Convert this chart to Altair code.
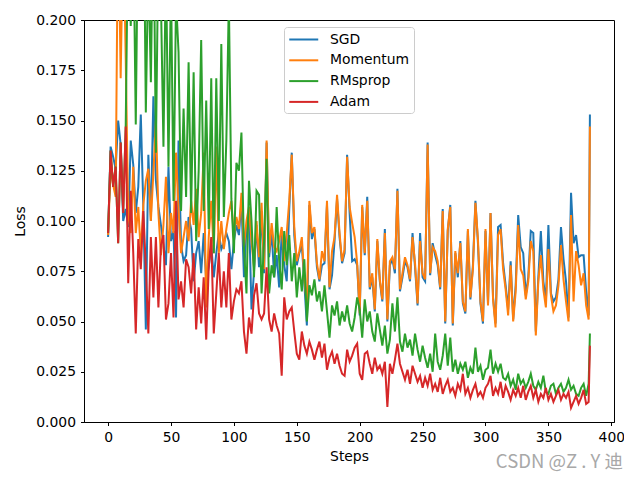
import altair as alt
import pandas as pd

# x positions (every 2nd step, plus the last step)
steps = list(range(0, 383, 2)) + [383]

sgd = [
    0.092, 0.137, 0.132, 0.126, 0.150, 0.138, 0.100, 0.106, 0.097, 0.140,
    0.128, 0.104, 0.117, 0.153, 0.107, 0.046, 0.133, 0.100, 0.162, 0.120,
    0.107, 0.098, 0.088, 0.078, 0.127, 0.090, 0.095, 0.052, 0.140, 0.088,
    0.080, 0.083, 0.102, 0.096, 0.070, 0.084, 0.090, 0.074, 0.094, 0.070,
    0.077, 0.088, 0.072, 0.084, 0.094, 0.086, 0.089, 0.094, 0.090, 0.076,
    0.090, 0.098, 0.093, 0.110, 0.072, 0.097, 0.104, 0.056, 0.075, 0.098,
    0.077, 0.105, 0.074, 0.139, 0.082, 0.095, 0.072, 0.083, 0.067, 0.094,
    0.078, 0.070, 0.106, 0.134, 0.093, 0.078, 0.084, 0.088, 0.069, 0.048,
    0.108, 0.091, 0.096, 0.077, 0.070, 0.078, 0.079, 0.108, 0.066, 0.073,
    0.090, 0.111, 0.092, 0.079, 0.084, 0.133, 0.104, 0.080, 0.081, 0.078,
    0.053, 0.107, 0.083, 0.112, 0.066, 0.072, 0.055, 0.090, 0.070, 0.060,
    0.096, 0.050, 0.078, 0.081, 0.074, 0.116, 0.065, 0.072, 0.080, 0.077,
    0.070, 0.094, 0.077, 0.058, 0.094, 0.072, 0.070, 0.139, 0.073, 0.089,
    0.083, 0.078, 0.066, 0.106, 0.049, 0.095, 0.108, 0.048, 0.084, 0.072,
    0.090, 0.059, 0.054, 0.095, 0.061, 0.078, 0.110, 0.089, 0.059, 0.049,
    0.095, 0.059, 0.104, 0.062, 0.049, 0.097, 0.098, 0.079, 0.068, 0.056,
    0.080, 0.051, 0.068, 0.103, 0.087, 0.084, 0.063, 0.072, 0.095, 0.094,
    0.045, 0.072, 0.095, 0.070, 0.060, 0.098, 0.064, 0.060, 0.062, 0.071,
    0.097, 0.081, 0.070, 0.052, 0.114, 0.089, 0.093, 0.082, 0.083, 0.083,
    0.065, 0.053, 0.153,
]

momentum = [
    0.093, 0.127, 0.118, 0.112, 0.260, 0.171, 0.250, 0.181, 0.103, 0.094,
    0.127, 0.094, 0.107, 0.084, 0.108, 0.120, 0.126, 0.100, 0.124, 0.150,
    0.104, 0.083, 0.098, 0.122, 0.084, 0.104, 0.094, 0.134, 0.106, 0.084,
    0.092, 0.100, 0.090, 0.110, 0.098, 0.116, 0.092, 0.104, 0.134, 0.057,
    0.092, 0.110, 0.084, 0.137, 0.084, 0.100, 0.086, 0.096, 0.104, 0.110,
    0.092, 0.102, 0.096, 0.114, 0.087, 0.100, 0.107, 0.090, 0.077, 0.100,
    0.082, 0.109, 0.076, 0.140, 0.084, 0.099, 0.087, 0.085, 0.090, 0.097,
    0.080, 0.094, 0.110, 0.133, 0.097, 0.080, 0.085, 0.092, 0.071, 0.059,
    0.110, 0.094, 0.097, 0.079, 0.071, 0.085, 0.080, 0.110, 0.067, 0.085,
    0.092, 0.113, 0.094, 0.080, 0.086, 0.132, 0.107, 0.099, 0.092, 0.079,
    0.054, 0.108, 0.084, 0.110, 0.067, 0.074, 0.056, 0.091, 0.071, 0.061,
    0.094, 0.051, 0.080, 0.082, 0.076, 0.115, 0.066, 0.074, 0.082, 0.078,
    0.071, 0.092, 0.079, 0.059, 0.090, 0.074, 0.071, 0.138, 0.074, 0.087,
    0.085, 0.080, 0.067, 0.105, 0.050, 0.096, 0.107, 0.049, 0.085, 0.074,
    0.089, 0.060, 0.055, 0.096, 0.062, 0.076, 0.109, 0.091, 0.060, 0.050,
    0.096, 0.058, 0.104, 0.061, 0.047, 0.093, 0.096, 0.076, 0.066, 0.053,
    0.078, 0.050, 0.065, 0.098, 0.076, 0.073, 0.061, 0.070, 0.090, 0.085,
    0.043, 0.070, 0.083, 0.066, 0.057, 0.086, 0.063, 0.055, 0.058, 0.068,
    0.088, 0.071, 0.060, 0.050, 0.103, 0.060, 0.085, 0.078, 0.068, 0.074,
    0.058, 0.051, 0.147,
]

rmsprop = [
    0.094, 0.135, 0.117, 0.127, 0.089, 0.139, 0.104, 0.147, 0.250, 0.197,
    0.250, 0.148, 0.260, 0.220, 0.280, 0.154, 0.230, 0.169, 0.260, 0.134,
    0.240, 0.210, 0.137, 0.230, 0.127, 0.220, 0.110, 0.210, 0.184, 0.105,
    0.156, 0.112, 0.179, 0.104, 0.174, 0.090, 0.125, 0.190, 0.105, 0.160,
    0.096, 0.171, 0.084, 0.171, 0.100, 0.188, 0.102, 0.140, 0.210, 0.111,
    0.084, 0.129, 0.125, 0.144, 0.087, 0.064, 0.120, 0.100, 0.072, 0.115,
    0.113, 0.064, 0.090, 0.131, 0.064, 0.078, 0.072, 0.107, 0.080, 0.066,
    0.095, 0.078, 0.093, 0.070, 0.084, 0.062, 0.077, 0.065, 0.081, 0.050,
    0.068, 0.063, 0.071, 0.060, 0.065, 0.055, 0.068, 0.055, 0.042, 0.058,
    0.053, 0.060, 0.048, 0.055, 0.050, 0.058, 0.049, 0.045, 0.052, 0.062,
    0.056, 0.042, 0.061, 0.050, 0.055, 0.045, 0.040, 0.054, 0.046, 0.038,
    0.048, 0.034, 0.041, 0.059, 0.045, 0.062, 0.040, 0.035, 0.044, 0.037,
    0.041, 0.033, 0.044, 0.036, 0.030, 0.038, 0.032, 0.027, 0.034, 0.025,
    0.044, 0.030, 0.026, 0.033, 0.044, 0.028, 0.042, 0.025, 0.031, 0.024,
    0.029, 0.026, 0.030, 0.022, 0.027, 0.024, 0.037, 0.025, 0.028, 0.021,
    0.026, 0.027, 0.036, 0.024, 0.029, 0.025, 0.029, 0.022, 0.021, 0.024,
    0.018, 0.021, 0.016, 0.024, 0.019, 0.021, 0.017, 0.020, 0.024, 0.018,
    0.016, 0.020, 0.017, 0.023, 0.015, 0.014, 0.018, 0.019, 0.014, 0.017,
    0.019, 0.015, 0.017, 0.021, 0.016, 0.018, 0.014, 0.013, 0.017, 0.019,
    0.013, 0.019, 0.044,
]

adam = [
    0.094, 0.135, 0.117, 0.127, 0.089, 0.139, 0.104, 0.147, 0.069, 0.115,
    0.084, 0.044, 0.091, 0.076, 0.105, 0.077, 0.044, 0.092, 0.062, 0.092,
    0.057, 0.088, 0.093, 0.051, 0.059, 0.084, 0.052, 0.110, 0.061, 0.070,
    0.057, 0.081, 0.077, 0.064, 0.084, 0.046, 0.067, 0.049, 0.072, 0.041,
    0.077, 0.092, 0.044, 0.064, 0.084, 0.057, 0.075, 0.057, 0.084, 0.051,
    0.060, 0.066, 0.064, 0.070, 0.045, 0.034, 0.052, 0.044, 0.063, 0.069,
    0.054, 0.051, 0.054, 0.077, 0.051, 0.045, 0.054, 0.048, 0.044, 0.023,
    0.062, 0.051, 0.055, 0.057, 0.045, 0.034, 0.031, 0.045, 0.038, 0.034,
    0.040, 0.036, 0.031, 0.036, 0.040, 0.032, 0.039, 0.026, 0.032, 0.035,
    0.029, 0.034, 0.028, 0.024, 0.023, 0.036, 0.030, 0.033, 0.037, 0.039,
    0.024, 0.021, 0.034, 0.035, 0.029, 0.024, 0.032, 0.026, 0.028, 0.024,
    0.030, 0.0075, 0.029, 0.024, 0.031, 0.039, 0.029, 0.025, 0.021, 0.026,
    0.019, 0.028, 0.024, 0.020, 0.023, 0.017, 0.022, 0.018, 0.024, 0.016,
    0.019, 0.015, 0.022, 0.014, 0.018, 0.021, 0.015, 0.017, 0.013, 0.019,
    0.016, 0.024, 0.014, 0.017, 0.012, 0.016, 0.019, 0.013, 0.015, 0.012,
    0.017, 0.019, 0.023, 0.013, 0.017, 0.014, 0.020, 0.012, 0.018, 0.015,
    0.011, 0.016, 0.013, 0.017, 0.012, 0.018, 0.011, 0.015, 0.018, 0.012,
    0.016, 0.010, 0.014, 0.012, 0.017, 0.011, 0.014, 0.010, 0.013, 0.016,
    0.011, 0.014, 0.012, 0.015, 0.007, 0.010, 0.013, 0.009, 0.012, 0.016,
    0.009, 0.010, 0.038,
]

names = ["SGD", "Momentum", "RMsprop", "Adam"]
colors = ["#1f77b4", "#ff7f0e", "#2ca02c", "#d62728"]
x_ticks = [0, 50, 100, 150, 200, 250, 300, 350, 400]
y_ticks = [0.0, 0.025, 0.05, 0.075, 0.1, 0.125, 0.15, 0.175, 0.2]

rows = []
for name, vals in zip(names, [sgd, momentum, rmsprop, adam]):
    assert len(vals) == len(steps), (name, len(vals))
    for s, v in zip(steps, vals):
        rows.append({"Steps": s, "Loss": v, "Optimizer": name})
df = pd.DataFrame(rows)

FONT = "DejaVu Sans"
FS = 13.9

x_enc = alt.X(
    "Steps:Q",
    scale=alt.Scale(domain=[-19.15, 402.15], nice=False, zero=False),
    axis=alt.Axis(values=x_ticks, title="Steps", format="d"),
)
y_enc = alt.Y(
    "Loss:Q",
    scale=alt.Scale(domain=[0, 0.2], nice=False),
    axis=alt.Axis(values=y_ticks, title="Loss", format=".3f"),
)
color_enc = alt.Color(
    "Optimizer:N",
    scale=alt.Scale(domain=names, range=colors),
    sort=names,
    legend=alt.Legend(
        title=None,
        orient="none",
        legendX=200,
        legendY=7,
        symbolType="M-1,0H3",
        symbolSize=210,
        symbolStrokeWidth=2,
        symbolOffset=0,
        labelFont=FONT,
        labelFontSize=FS,
        labelColor="black",
        labelOffset=25,
        rowPadding=4.8,
        padding=4,
        strokeColor="#cccccc",
        fillColor="white",
        cornerRadius=3,
    ),
)

layers = [
    alt.Chart(df)
    .transform_filter(alt.datum.Optimizer == n)
    .mark_line(strokeWidth=2, clip=True)
    .encode(x=x_enc, y=y_enc, color=color_enc)
    for n in names
]

watermark = alt.Chart(pd.DataFrame({"t": ["CSDN @Z . Y 迪"]})).mark_text(
    align="right", baseline="alphabetic", font="Noto Sans CJK SC",
    fontSize=18.5, color="#a8a8a8"
).encode(text="t:N", x=alt.value(539), y=alt.value(448))

chart = (
    alt.layer(*layers, watermark)
    .properties(width=530, height=402, padding={"left": 76, "top": 12, "right": 10, "bottom": 50})
    .configure(autosize=alt.AutoSizeParams(type="none"))
    .configure_view(stroke="black", strokeWidth=1)
    .configure_axis(
        grid=False,
        domainColor="black",
        tickColor="black",
        tickSize=3.5,
        labelFont=FONT,
        labelFontSize=FS,
        labelColor="black",
        labelPadding=5,
        titleFont=FONT,
        titleFontSize=FS,
        titleFontWeight="normal",
        titleColor="black",
    )
    .configure_axisX(titlePadding=5)
    .configure_axisY(titlePadding=8)
)

chart.save("out.html", embed_options={"renderer": "svg", "actions": False})
